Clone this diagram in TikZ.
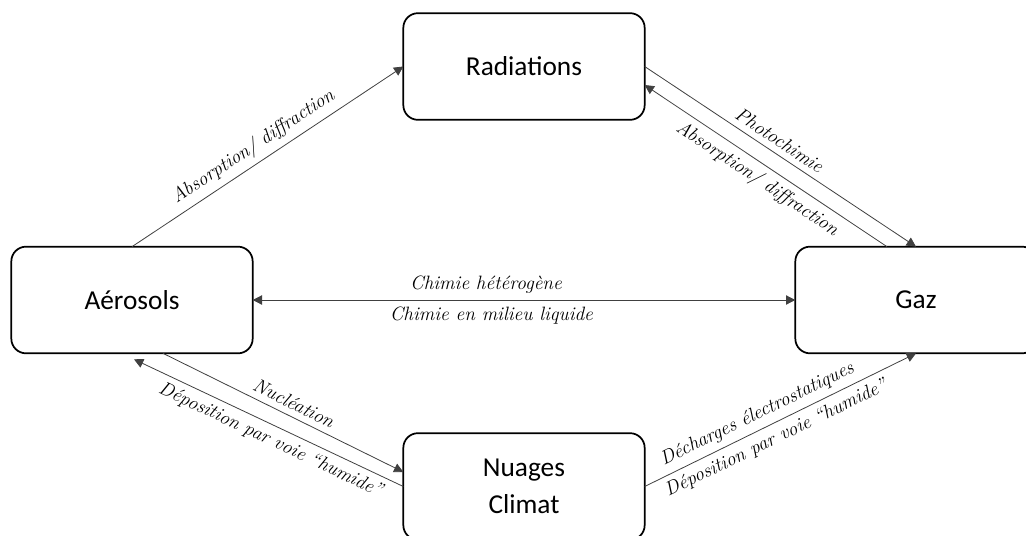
\documentclass[tikz,border=0pt]{standalone}
\usepackage{fontspec}
\newfontfamily\boxfont{Carlito}
\usetikzlibrary{arrows.meta,calc}

\begin{document}
\begin{tikzpicture}[x=0.75pt, y=-0.75pt,
  box/.style={draw, line width=1.3pt, rounded corners=11pt, minimum width=181pt, minimum height=80pt, inner sep=0pt, outer sep=0pt, align=center, font=\boxfont\fontsize{20.5}{28}\selectfont},
  arr/.style={line width=0.6pt, draw=black!75, -{Triangle[length=7pt,width=7pt]}},
  lbl/.style={sloped, inner sep=4.5pt, font=\itshape\fontsize{14.5}{16}\selectfont}]
\useasboundingbox (0,0) rectangle (1026,536);
\clip (0,0) rectangle (1026,536);
\node (rad) at (524,66.5)  [box] {Radiations};
\node (aer) at (132,300)   [box] {Aérosols};
\node (gaz) at (916,300)   [box] {Gaz};
\node (nua) at (524,486.5) [box] {Nuages\\Climat};
\draw[arr] (aer.north) to node[lbl, pos=0.48, above] {Absorption/ diffraction} (rad.west);
\draw[arr] (rad.east) to node[lbl, pos=0.47, above] {Photochimie} (gaz.north);
\draw[arr] ($(gaz.north)+(-29,0)$) to node[lbl, pos=0.5, below] {Absorption/ diffraction} ($(rad.east)+(0,18.5)$);
\draw[arr, {Triangle[length=7pt,width=7pt]}-{Triangle[length=7pt,width=7pt]}] (aer.east) -- (gaz.west)
  node[lbl, pos=0.43, above] {Chimie hétérogène}
  node[lbl, pos=0.44, below] {Chimie en milieu liquide};
\draw[arr] ($(aer.south)+(31,0)$) to node[lbl, pos=0.52, above] {Nucléation} ($(nua.west)+(0,-14.5)$);
\draw[arr] (nua.west) to node[lbl, pos=0.47, below] {Déposition par voie “humide”} ($(aer.south)+(2,6)$);
\draw[arr] (nua.east) -- (gaz.south)
  node[lbl, pos=0.44, above] {Décharges électrostatiques}
  node[lbl, pos=0.46, below] {Déposition par voie “humide”};
\end{tikzpicture}
\end{document}
